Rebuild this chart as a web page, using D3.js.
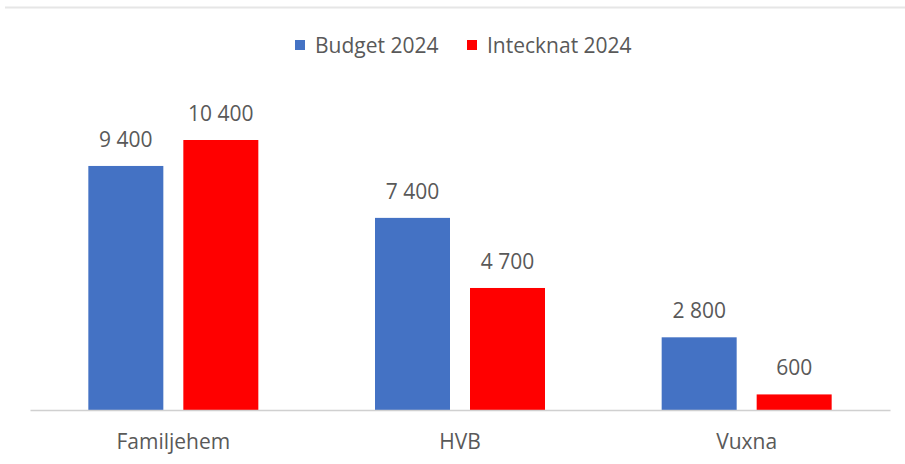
<!DOCTYPE html>
<html>
<head>
<meta charset="utf-8">
<script src="https://cdn.jsdelivr.net/npm/d3@7"></script>
<style>
  body { margin: 0; background: #fff; }
  text { font-family: "Open Sans", "Liberation Sans", sans-serif; fill: #595959; }
</style>
</head>
<body>
<svg id="chart" width="905" height="464"></svg>
<script>
var categories = ["Familjehem", "HVB", "Vuxna"];
var seriesNames = ["Budget 2024", "Intecknat 2024"];
var budget = [9400, 7400, 2800];
var intecknat = [10400, 4700, 600];
var colours = ["#4472c4", "#ff0000"];

var svg = d3.select("#chart");
var baseY = 410, left = 30, right = 890;

// faint top edge line
svg.append("line")
  .attr("x1", 5).attr("x2", 905).attr("y1", 7.5).attr("y2", 7.5)
  .attr("stroke", "#e6e6e6").attr("stroke-width", 2);

var x = d3.scaleBand().domain(categories).range([left, right]);
var xs = d3.scaleBand().domain(seriesNames).range([0, 170]).paddingInner(20 / 95);
var y = d3.scaleLinear().domain([0, 10400]).range([baseY, 140]);

var data = [budget, intecknat];

seriesNames.forEach(function(name, s) {
  var g = svg.append("g");
  g.selectAll("rect").data(data[s]).enter().append("rect")
    .attr("x", function(d, i) { return x(categories[i]) + x.bandwidth() / 2 - 85 + xs(name); })
    .attr("width", xs.bandwidth())
    .attr("y", function(d) { return y(d); })
    .attr("height", function(d) { return baseY - y(d); })
    .attr("fill", colours[s]);
  g.selectAll("text").data(data[s]).enter().append("text")
    .attr("x", function(d, i) { return x(categories[i]) + x.bandwidth() / 2 - 85 + xs(name) + xs.bandwidth() / 2; })
    .attr("y", function(d) { return y(d) - 19; })
    .attr("text-anchor", "middle")
    .style("font-size", "21px")
    .text(function(d) { return d3.format(",")(d).replace(/,/g, " "); });
});

// axis
var axis = svg.append("g").attr("transform", "translate(0," + baseY + ")")
  .call(d3.axisBottom(x).tickSize(0).tickPadding(24));
axis.select(".domain").attr("stroke", "#d0d0d0").attr("stroke-width", 1.5);
axis.selectAll("text").style("font-size", "21px").attr("fill", "#595959")
  .style("font-family", '"Open Sans", "Liberation Sans", sans-serif');

// legend
var legend = svg.append("g");
var legendX = [295, 467];
seriesNames.forEach(function(name, s) {
  legend.append("rect").attr("x", legendX[s]).attr("y", 40).attr("width", 10).attr("height", 10)
    .attr("fill", colours[s]);
  legend.append("text").attr("x", legendX[s] + 20).attr("y", 52.5)
    .style("font-size", "21px").text(name);
});
</script>
</body>
</html>
